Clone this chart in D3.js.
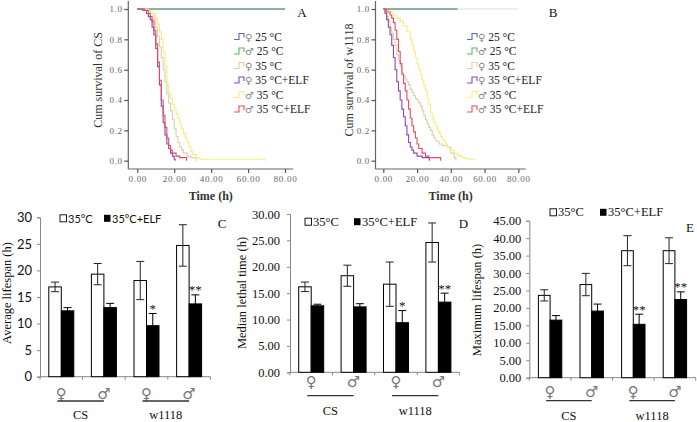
<!DOCTYPE html>
<html><head><meta charset="utf-8">
<script src="https://cdn.jsdelivr.net/npm/d3@7"></script>
<style>
html,body{margin:0;padding:0;background:#fff;}
svg{display:block;}
</style></head><body>
<svg id="chart" width="697" height="422"></svg>
<script>
// ---------------- DATA ----------------
const timeTicks = [0, 20, 40, 60, 80];
const survTicks = [0, 0.2, 0.4, 0.6, 0.8, 1.0];
const seriesNames = ["♀ 25 °C", "♂ 25 °C", "♀ 35 °C", "♀ 35 °C+ELF", "♂ 35 °C", "♂ 35 °C+ELF"];

// Panel A (CS) Kaplan-Meier steps [time h, cum survival]
const csFemale25 = [[0,1],[80,1]];
const csMale25 = [[0,1],[80,1]];
const csFemale35 = [[0,1],[5,0.99],[7,0.97],[9,0.93],[10,0.88],[11,0.82],[12,0.75],[13,0.68],[14,0.6],[15,0.52],[16,0.44],[17,0.38],[18,0.33],[19,0.27],[20,0.21],[21,0.16],[22,0.12],[23,0.09],[24,0.07],[25,0.05],[27,0.03],[29,0.02],[32,0]];
const csFemale35ELF = [[0,1],[3,0.99],[5,0.97],[6,0.95],[7,0.93],[8,0.88],[9,0.83],[10,0.74],[11,0.62],[12,0.5],[13,0.36],[14,0.25],[15,0.17],[16,0.11],[17,0.08],[18,0.05],[19,0.03],[20,0.01],[20.5,0]];
const csMale35 = [[0,1],[6,0.99],[8,0.97],[10,0.94],[11,0.9],[12,0.85],[13,0.8],[14,0.72],[15,0.62],[16,0.5],[17,0.45],[18,0.41],[19,0.37],[20,0.34],[21,0.31],[22,0.28],[23,0.24],[24,0.21],[25,0.18],[26,0.15],[27,0.12],[28,0.09],[29,0.06],[30,0.04],[32,0.02],[34,0.01],[69,0]];
const csMale35ELF = [[0,1],[4,0.99],[6,0.97],[7,0.95],[8,0.92],[9,0.86],[10,0.77],[11,0.65],[12,0.53],[13,0.4],[14,0.3],[15,0.22],[16,0.15],[17,0.1],[18,0.07],[19,0.05],[21,0.03],[23,0.02],[26.7,0]];

// Panel B (w1118)
const wFemale25 = [[0,1],[44,1]];
const wMale25 = [[0,1],[44,1]];
const wMale25Tail = [[44,1],[80,1]];
const wFemale35 = [[0,1],[1,0.98],[2,0.95],[3,0.92],[4,0.88],[5,0.84],[6,0.8],[7,0.76],[8,0.7],[9,0.66],[10,0.62],[11,0.58],[12,0.56],[13,0.54],[14,0.52],[15,0.5],[16,0.47],[17,0.45],[18,0.43],[19,0.41],[20,0.4],[21,0.38],[22,0.36],[23,0.33],[24,0.3],[25,0.27],[26,0.24],[27,0.22],[28,0.2],[29,0.17],[30,0.15],[31,0.13],[33,0.11],[35,0.1],[38,0.09],[40,0.05],[42,0.02],[43,0]];
const wFemale35ELF = [[0,1],[1,0.97],[2,0.93],[3,0.88],[4,0.83],[5,0.76],[6,0.68],[7,0.6],[8,0.52],[9,0.46],[10,0.4],[11,0.34],[12,0.29],[13,0.23],[14,0.17],[15,0.12],[16,0.09],[17,0.07],[18,0.05],[20,0.03],[23,0.02],[27.3,0]];
const wMale35 = [[0,1],[2,0.99],[4,0.98],[6,0.96],[8,0.94],[10,0.92],[12,0.89],[14,0.85],[16,0.8],[17,0.76],[18,0.72],[19,0.68],[20,0.64],[21,0.6],[22,0.57],[23,0.53],[24,0.5],[25,0.46],[26,0.41],[27,0.37],[28,0.32],[29,0.28],[30,0.25],[31,0.23],[32,0.2],[33,0.18],[34,0.16],[35,0.14],[36,0.13],[37,0.11],[38,0.09],[39,0.08],[40,0.07],[42,0.05],[44,0.035],[46,0.025],[48,0.015],[50,0.01],[54,0]];
const wMale35ELF = [[0,1],[2,0.98],[4,0.96],[5,0.94],[6,0.91],[7,0.86],[8,0.8],[9,0.72],[10,0.64],[11,0.57],[12,0.51],[13,0.46],[14,0.4],[15,0.34],[16,0.28],[17,0.23],[18,0.19],[19,0.15],[20,0.11],[21,0.08],[23,0.05],[25,0.03],[27,0.02],[34,0]];

// Bar panels
const groups = ["CS ♀", "CS ♂", "w1118 ♀", "w1118 ♂"];
const sexes = ["♀", "♂", "♀", "♂"];
const strains = ["CS", "w1118"];
const legendNames = ["35°C", "35°C+ELF"];

const avgLife35 = [16.9, 19.3, 18.1, 24.7];
const avgLife35Err = [0.9, 2.0, 3.6, 3.9];
const avgLifeELF = [12.4, 13.0, 9.6, 13.7];
const avgLifeELFErr = [0.6, 0.8, 2.3, 1.7];
const avgLifeSig = ["", "", "*", "**"];

const median35 = [16.2, 18.3, 16.7, 24.6];
const median35Err = [0.9, 2.0, 4.2, 3.7];
const medianELF = [12.6, 12.4, 9.4, 13.3];
const medianELFErr = [0.3, 0.6, 2.3, 1.7];
const medianSig = ["", "", "*", "**"];

const max35 = [23.6, 26.7, 36.4, 36.4];
const max35Err = [1.6, 3.2, 4.3, 3.7];
const maxELF = [16.5, 19.1, 15.3, 22.4];
const maxELFErr = [1.3, 2.0, 2.9, 2.2];
const maxSig = ["", "", "**", "**"];

// ---------------- DRAW ----------------
const svg = d3.select("#chart");
const serif = "'Liberation Serif','Times New Roman',serif";
const symFont = "'DejaVu Sans',sans-serif";
const seriesColors = ["#5a68bd", "#5cb868", "#d8d0b0", "#8a48a8", "#f4ee80", "#e84a5c"];

function survivalPanel(o) {
  const x = d3.scaleLinear().domain([0, 80]).range(o.xRange);
  const y = d3.scaleLinear().domain([0, 1]).range([160.7, 9]);
  const g = svg.append("g");
  g.append("line").attr("x1", o.axisX).attr("x2", o.axisX).attr("y1", 1).attr("y2", 169)
    .attr("stroke", "#666").attr("stroke-width", 1.2);
  g.append("line").attr("x1", o.axisX).attr("x2", o.axisEnd).attr("y1", 169).attr("y2", 169)
    .attr("stroke", "#666").attr("stroke-width", 1.2);
  const ya = g.append("g").attr("transform", `translate(${o.axisX},0)`)
    .call(d3.axisLeft(y).tickValues(survTicks).tickFormat(d3.format(".1f")).tickSize(4).tickPadding(1.5));
  const xa = g.append("g").attr("transform", "translate(0,169)")
    .call(d3.axisBottom(x).tickValues(timeTicks).tickFormat(d3.format(".2f")).tickSize(4).tickPadding(3));
  [ya, xa].forEach(a => {
    a.select(".domain").remove();
    a.selectAll(".tick line").attr("stroke", "#555").attr("stroke-width", 1.2);
    a.selectAll(".tick text").attr("font-family", serif).attr("font-size", 9)
      .attr("letter-spacing", 0.7).attr("fill", "#666");
  });

  const line = d3.line().x(d => x(d[0])).y(d => y(d[1])).curve(d3.curveStepAfter);
  const order = [0, 1, 2, 4, 3, 5];
  order.forEach(i => {
    g.append("path").datum(o.series[i]).attr("d", line).attr("fill", "none")
      .attr("stroke", seriesColors[i]).attr("stroke-width", 1.1);
  });
  if (o.tail) {
    g.append("path").datum(o.tail).attr("d", line).attr("fill", "none")
      .attr("stroke", "#cfe8cf").attr("stroke-width", 1.1);
  }

  // legend
  seriesNames.forEach((name, i) => {
    const cy = 36.5 + i * 14.5;
    const lx = o.legendX;
    g.append("path").attr("d", `M${lx},${cy + 3}H${lx + 5}V${cy - 3}H${lx + 10}V${cy + 1}`)
      .attr("fill", "none").attr("stroke", seriesColors[i]).attr("stroke-width", 1.1);
    const t = g.append("text").attr("x", lx + 11).attr("y", cy + 4);
    t.append("tspan").attr("font-family", symFont).attr("font-size", 10).attr("fill", "#888").text(name.slice(0, 1));
    t.append("tspan").attr("font-family", serif).attr("font-size", 11.5).attr("fill", "#222").text(name.slice(1));
  });

  g.append("text").attr("transform", `translate(${o.titleX},80) rotate(-90)`)
    .attr("text-anchor", "middle").attr("dominant-baseline", "central")
    .attr("font-family", serif).attr("font-size", 12).attr("fill", "#333").text(o.yTitle);
  g.append("text").attr("x", (o.axisX + o.axisEnd) / 2).attr("y", 200).attr("text-anchor", "middle")
    .attr("font-family", serif).attr("font-size", 12).attr("font-weight", "bold").attr("fill", "#333").text("Time (h)");
  g.append("text").attr("x", o.labelPos[0]).attr("y", o.labelPos[1]).attr("text-anchor", "middle")
    .attr("font-family", serif).attr("font-size", 13).attr("fill", "#111").text(o.label);
}

survivalPanel({
  xRange: [137.3, 285], axisX: 128.3, axisEnd: 293.3, legendX: 234, titleX: 98,
  yTitle: "Cum survival of CS", label: "A", labelPos: [302, 17],
  series: [csFemale25, csMale25, csFemale35, csFemale35ELF, csMale35, csMale35ELF]
});
survivalPanel({
  xRange: [383.3, 518.3], axisX: 375.5, axisEnd: 525.7, legendX: 467, titleX: 348.5,
  yTitle: "Cum survival of w1118", label: "B", labelPos: [553, 16.5],
  series: [wFemale25, wMale25, wFemale35, wFemale35ELF, wMale35, wMale35ELF], tail: wMale25Tail
});

function barPanel(o) {
  const x = d3.scaleBand().domain(groups).range([o.axisX, o.axisX + 4 * o.catW]);
  const y = d3.scaleLinear().domain([0, o.max]).range([o.y0, o.yTop]);
  const g = svg.append("g");
  const bw = o.bw;

  const ya = g.append("g").attr("transform", `translate(${o.axisX},0)`)
    .call(d3.axisLeft(y).tickValues(d3.range(0, o.max + 0.1, 5)).tickFormat(o.fmt).tickSize(3).tickPadding(o.pad));
  ya.select(".domain").attr("stroke", "#888");
  ya.selectAll(".tick line").attr("stroke", "#888");
  ya.selectAll(".tick text").attr("font-family", o.tickFont).attr("font-size", o.tickSize).attr("fill", "#111");

  g.append("line").attr("x1", o.axisX).attr("x2", x.range()[1]).attr("y1", o.y0).attr("y2", o.y0).attr("stroke", "#888");
  const bounds = groups.map(d => x(d)).concat([x.range()[1]]);
  g.selectAll(".bt").data(bounds).join("line").attr("x1", d => d).attr("x2", d => d)
    .attr("y1", o.y0).attr("y2", o.y0 + 3).attr("stroke", "#888");

  const cx = d => x(d) + x.bandwidth() / 2;
  g.selectAll(".wb").data(groups).join("rect")
    .attr("x", d => cx(d) - bw).attr("width", bw)
    .attr("y", (d, i) => y(o.v35[i])).attr("height", (d, i) => o.y0 - y(o.v35[i]))
    .attr("fill", "#fff").attr("stroke", "#000").attr("stroke-width", 1);
  g.selectAll(".bb").data(groups).join("rect")
    .attr("x", d => cx(d)).attr("width", bw)
    .attr("y", (d, i) => y(o.vELF[i])).attr("height", (d, i) => o.y0 - y(o.vELF[i]))
    .attr("fill", "#000").attr("stroke", "#000").attr("stroke-width", 1);

  function errBars(vals, errs, offset, color) {
    groups.forEach((d, i) => {
      const xc = cx(d) + offset;
      const top = y(vals[i] + errs[i]), bot = y(vals[i] - errs[i]);
      g.append("line").attr("x1", xc).attr("x2", xc).attr("y1", top).attr("y2", bot).attr("stroke", color);
      g.append("line").attr("x1", xc - 4).attr("x2", xc + 4).attr("y1", top).attr("y2", top).attr("stroke", color);
      g.append("line").attr("x1", xc - 4).attr("x2", xc + 4).attr("y1", bot).attr("y2", bot).attr("stroke", color);
    });
  }
  errBars(o.v35, o.e35, -bw / 2, "#222");
  errBars(o.vELF, o.eELF, bw / 2, "#000");

  groups.forEach((d, i) => {
    if (!o.sig[i]) return;
    g.append("text").attr("x", cx(d) + bw / 2).attr("y", y(o.vELF[i] + o.eELF[i]) - 0.5)
      .attr("text-anchor", "middle").attr("font-family", serif).attr("font-size", 13)
      .attr("fill", "#111").text(o.sig[i]);
  });

  const [lx, ly] = o.legend;
  g.append("rect").attr("x", lx).attr("y", ly - 3.5).attr("width", 6.5).attr("height", 7)
    .attr("fill", "#fff").attr("stroke", "#000").attr("stroke-width", 0.9);
  g.append("text").attr("x", lx + 8).attr("y", ly).attr("dominant-baseline", "central")
    .attr("font-family", o.legFont).attr("font-size", o.legSize).attr("fill", "#111").text(legendNames[0]);
  g.append("rect").attr("x", lx + o.legGap).attr("y", ly - 3.5).attr("width", 6.5).attr("height", 7)
    .attr("fill", "#000");
  g.append("text").attr("x", lx + o.legGap + 8).attr("y", ly).attr("dominant-baseline", "central")
    .attr("font-family", o.legFont).attr("font-size", o.legSize).attr("fill", "#111").text(legendNames[1]);

  groups.forEach((d, i) => {
    g.append("text").attr("x", cx(d)).attr("y", o.y0 + o.symDy).attr("text-anchor", "middle")
      .attr("dominant-baseline", "central").attr("font-family", symFont).attr("font-size", 15)
      .attr("fill", "#777").text(sexes[i]);
  });
  strains.forEach((s, k) => {
    const a = cx(groups[2 * k]) - 4, b = cx(groups[2 * k + 1]);
    g.append("line").attr("x1", a).attr("x2", b).attr("y1", o.y0 + o.lineDy).attr("y2", o.y0 + o.lineDy)
      .attr("stroke", "#333").attr("stroke-width", 1.3);
    g.append("text").attr("x", (a + b) / 2).attr("y", o.y0 + o.strainDy).attr("text-anchor", "middle")
      .attr("font-family", serif).attr("font-size", 12.5).attr("fill", "#111").text(s);
  });

  g.append("text").attr("transform", `translate(${o.titlePos[0]},${o.titlePos[1]}) rotate(-90)`)
    .attr("text-anchor", "middle").attr("dominant-baseline", "central")
    .attr("font-family", serif).attr("font-size", 12.5).attr("fill", "#111").text(o.yTitle);
  g.append("text").attr("x", o.labelPos[0]).attr("y", o.labelPos[1]).attr("text-anchor", "middle")
    .attr("font-family", serif).attr("font-size", 13).attr("fill", "#111").text(o.label);
}

barPanel({
  axisX: 40, catW: 42.6, y0: 376.7, yTop: 217.3, max: 30, bw: 12.5,
  fmt: d3.format("d"), pad: 5, tickFont: "Lato, 'Open Sans', sans-serif", tickSize: 13,
  v35: avgLife35, e35: avgLife35Err, vELF: avgLifeELF, eELF: avgLifeELFErr, sig: avgLifeSig,
  legend: [60, 218.3], legGap: 44, legFont: "Lato, 'Open Sans', sans-serif", legSize: 11,
  symDy: 17, lineDy: 24.3, strainDy: 42.3,
  yTitle: "Average lifespan (h)", titlePos: [7, 293], label: "C", labelPos: [222, 228]
});
barPanel({
  axisX: 290, catW: 42.4, y0: 372.3, yTop: 214, max: 30, bw: 12.5,
  fmt: d3.format(".2f"), pad: 7, tickFont: serif, tickSize: 12.5,
  v35: median35, e35: median35Err, vELF: medianELF, eELF: medianELFErr, sig: medianSig,
  legend: [305, 221.7], legGap: 49, legFont: serif, legSize: 12.5,
  symDy: 10, lineDy: 23.4, strainDy: 42.7,
  yTitle: "Median lethal time (h)", titlePos: [241.7, 293], label: "D", labelPos: [463.5, 228]
});
barPanel({
  axisX: 529.3, catW: 41.6, y0: 377.7, yTop: 220.7, max: 45, bw: 11.7,
  fmt: d3.format(".2f"), pad: 5, tickFont: serif, tickSize: 12.5,
  v35: max35, e35: max35Err, vELF: maxELF, eELF: maxELFErr, sig: maxSig,
  legend: [550, 212.3], legGap: 50, legFont: serif, legSize: 12.5,
  symDy: 14.5, lineDy: 23, strainDy: 42,
  yTitle: "Maximum lifespan (h)", titlePos: [476.7, 300], label: "E", labelPos: [690, 231.5]
});
</script></body></html>
